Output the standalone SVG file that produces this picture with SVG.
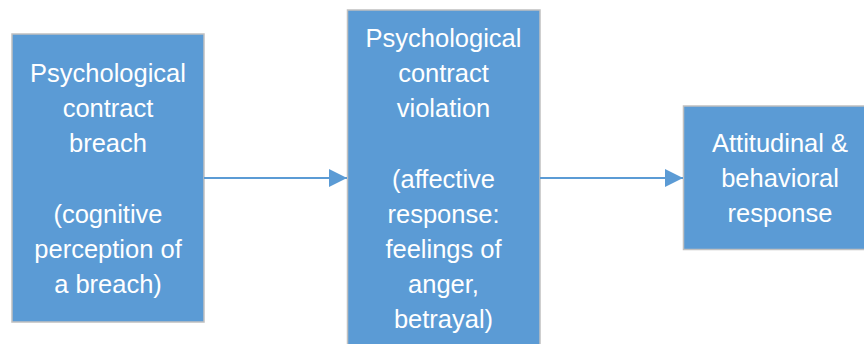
<svg xmlns="http://www.w3.org/2000/svg" width="864" height="344" viewBox="0 0 864 344">
<style>
.box{fill:#5b9bd5;stroke:#c0c0c0;stroke-width:1.5}
.lbl{fill:#ffffff;font-family:"Liberation Sans",Arial,sans-serif;font-size:25.5px;text-anchor:middle}
.conn{stroke:#5b9bd5;stroke-width:2;fill:none}
</style>
<defs>
<marker id="ah" markerUnits="userSpaceOnUse" markerWidth="20" markerHeight="20" refX="18" refY="9" orient="auto">
<path d="M0,0 L18,9 L0,18 Z" fill="#5b9bd5"/>
</marker>
</defs>
<g id="n1">
<rect class="box" x="12" y="34" width="192" height="288"/>
<text class="lbl" x="108" y="82">Psychological</text>
<text class="lbl" x="108" y="117">contract</text>
<text class="lbl" x="108" y="152">breach</text>
<text class="lbl" x="108" y="223">(cognitive</text>
<text class="lbl" x="108" y="258">perception of</text>
<text class="lbl" x="108" y="293">a breach)</text>
</g>
<g id="n2">
<rect class="box" x="347.5" y="10" width="192.5" height="360"/>
<text class="lbl" x="443.5" y="47">Psychological</text>
<text class="lbl" x="443.5" y="82">contract</text>
<text class="lbl" x="443.5" y="117">violation</text>
<text class="lbl" x="443.5" y="188">(affective</text>
<text class="lbl" x="443.5" y="223">response:</text>
<text class="lbl" x="443.5" y="258">feelings of</text>
<text class="lbl" x="443.5" y="293">anger,</text>
<text class="lbl" x="443.5" y="328">betrayal)</text>
</g>
<g id="n3">
<rect class="box" x="683.5" y="106" width="193" height="143.5"/>
<text class="lbl" x="780" y="152">Attitudinal &amp;</text>
<text class="lbl" x="780" y="187">behavioral</text>
<text class="lbl" x="780" y="222">response</text>
</g>
<g id="connectors">
<line class="conn" x1="204" y1="178" x2="347" y2="178" marker-end="url(#ah)"/>
<line class="conn" x1="540" y1="178" x2="683" y2="178" marker-end="url(#ah)"/>
</g>
</svg>
